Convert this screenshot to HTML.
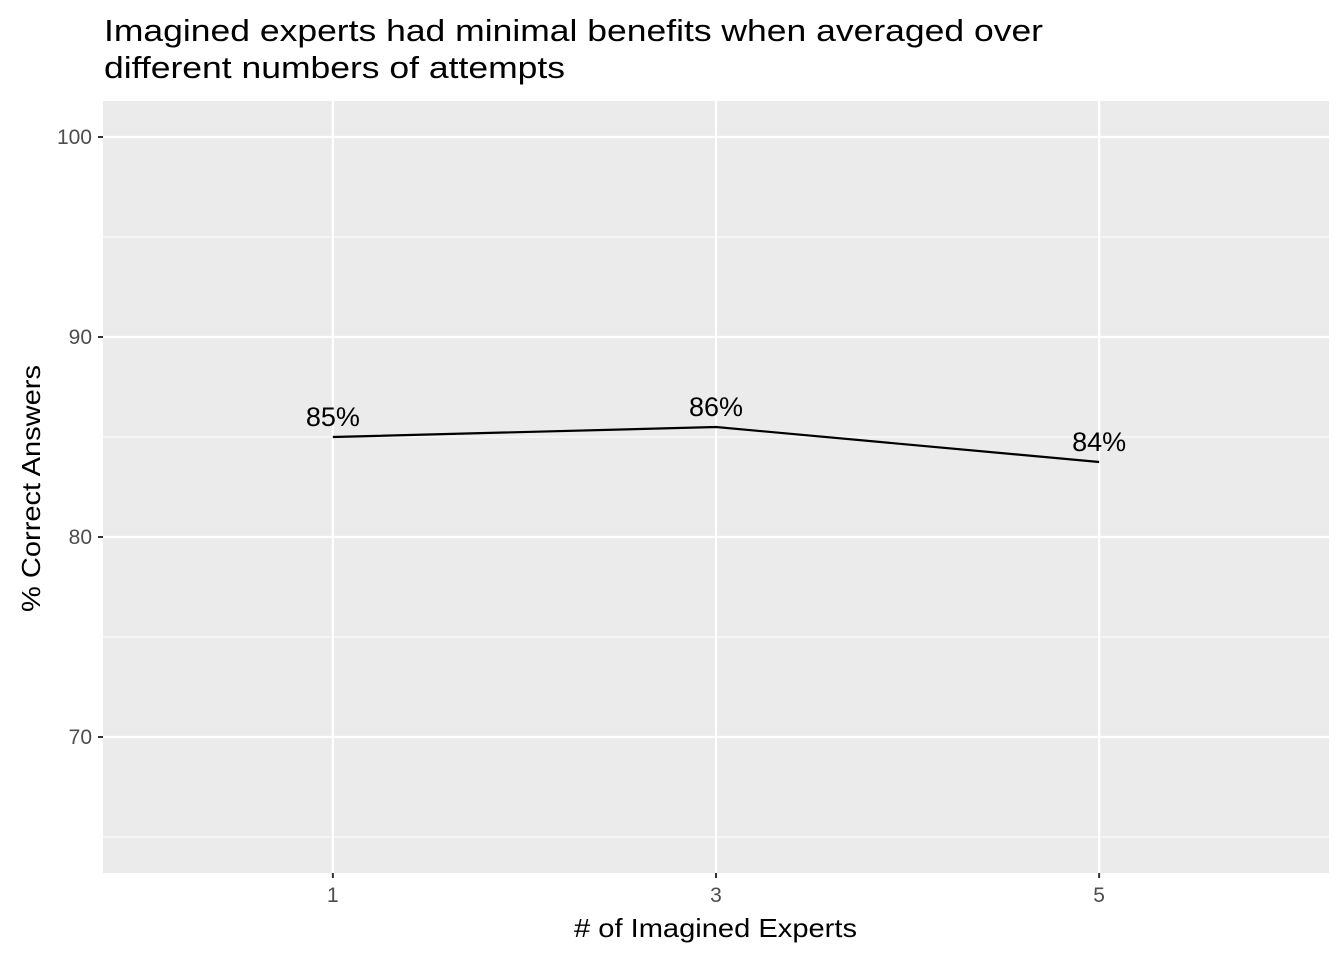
<!DOCTYPE html>
<html><head><meta charset="utf-8"><style>
body{margin:0;background:#fff;}
svg{display:block;font-family:"Liberation Sans",Arial,sans-serif;}
</style></head><body>
<svg id="chart" width="1344" height="960">
<text x="104" y="41" font-size="31" textLength="939" lengthAdjust="spacingAndGlyphs" fill="#000">Imagined experts had minimal benefits when averaged over</text>
<text x="104" y="78" font-size="31" textLength="461" lengthAdjust="spacingAndGlyphs" fill="#000">different numbers of attempts</text>
<rect x="103" y="101" width="1226" height="772" fill="#ebebeb"/>
<g id="grid"></g><g id="axes"></g><g id="series"></g>
<text x="574" y="937" font-size="26" textLength="283" lengthAdjust="spacingAndGlyphs" fill="#000"># of Imagined Experts</text>
<text transform="translate(40,612) rotate(-90)" font-size="26" textLength="247" lengthAdjust="spacingAndGlyphs" fill="#000">% Correct Answers</text>
</svg>
<script>
const categories = [1, 3, 5];
const values = [85.0, 85.5, 83.75];
const labels = ["85%", "86%", "84%"];
const yTicks = [70, 80, 90, 100];
const yMinor = [65, 75, 85, 95];
const NS = "http://www.w3.org/2000/svg";
const L = 103, R = 1329, T = 101, B = 873;
const xMin = -0.2, xMax = 6.2, yMin = 63.2, yMax = 101.8;
const x = v => L + (v - xMin) / (xMax - xMin) * (R - L);
const y = v => B - (v - yMin) / (yMax - yMin) * (B - T);
function mk(tag, attrs, parent) { const e = document.createElementNS(NS, tag); for (const k in attrs) e.setAttribute(k, attrs[k]); parent.appendChild(e); return e; }
const grid = document.getElementById('grid'), axes = document.getElementById('axes'), series = document.getElementById('series');
yMinor.forEach(v => {
  const l = mk('line', {x1: L, x2: R, y1: y(v), y2: y(v), stroke: '#fff', 'stroke-width': 1.1}, grid);
  
  
});
yTicks.forEach(v => {
  const l = mk('line', {x1: L, x2: R, y1: y(v), y2: y(v), stroke: '#fff', 'stroke-width': 2.2}, grid);
  
  
  const t = mk('line', {x1: L - 5, x2: L, y1: y(v), y2: y(v), stroke: '#333', 'stroke-width': 2}, axes);
  
  
  const tx = mk('text', {x: L - 11, y: y(v) + 7, 'font-size': 21, 'text-anchor': 'end', fill: '#4d4d4d'}, axes);
  tx.textContent = v;
  
  
});
categories.forEach(c => {
  const l = mk('line', {x1: x(c), x2: x(c), y1: T, y2: B, stroke: '#fff', 'stroke-width': 2.2}, grid);
  
  
  const t = mk('line', {x1: x(c), x2: x(c), y1: B, y2: B + 5, stroke: '#333', 'stroke-width': 2}, axes);
  
  
  const tx = mk('text', {x: x(c), y: B + 29, 'font-size': 21, 'text-anchor': 'middle', fill: '#4d4d4d'}, axes);
  tx.textContent = c;
  
  
});
const pts = categories.map((c, i) => x(c) + ',' + y(values[i])).join(' ');
const line = mk('polyline', {points: pts, fill: 'none', stroke: '#000', 'stroke-width': 2.2}, series);


categories.forEach((c, i) => {
  const t = mk('text', {x: x(c), y: y(values[i]) - 11, 'font-size': 27, 'text-anchor': 'middle', fill: '#000'}, series);
  t.textContent = labels[i];
  
  
});
</script>
</body></html>
